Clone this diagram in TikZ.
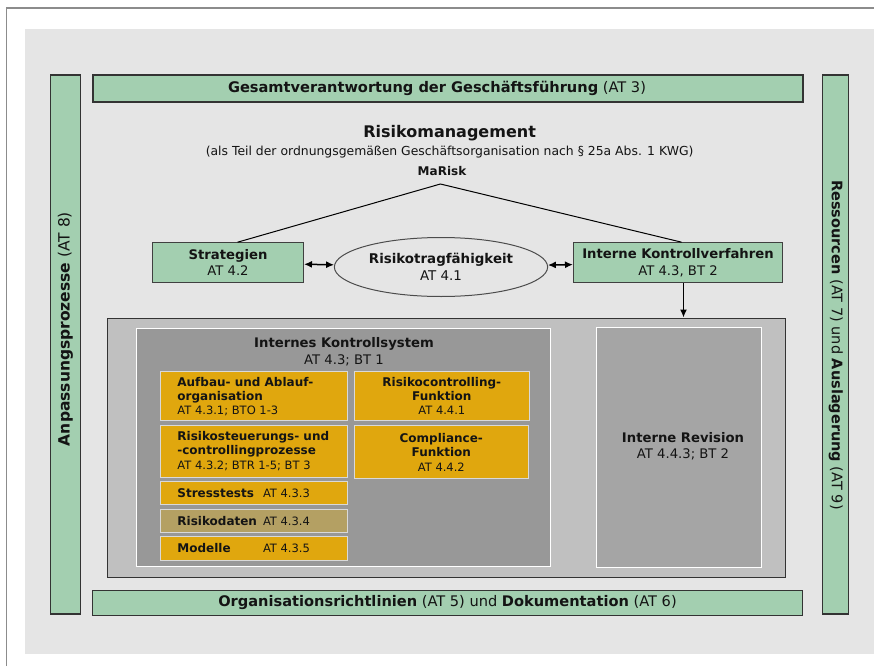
\documentclass[tikz,border=0pt]{standalone}
\usepackage{fontspec}
\setmainfont{DejaVu Sans}
\usepackage{tikz}
\usetikzlibrary{shapes}
\usetikzlibrary{arrows.meta}
\usepackage{xcolor}
\definecolor{gruen}{HTML}{A3CFB0}
\definecolor{gelb}{HTML}{E0A70E}
\definecolor{khaki}{HTML}{B4A063}
\definecolor{panel}{HTML}{E5E5E5}
\definecolor{rahmen}{HTML}{8C8C8C}
\definecolor{hellgrau}{HTML}{C0C0C0}
\definecolor{mittelgrau}{HTML}{989898}
\definecolor{revgrau}{HTML}{A5A5A5}
\definecolor{schrift}{HTML}{141414}
\newcommand{\fs}[2]{\fontsize{#1}{#2}\selectfont}
\newcommand{\yfont}{\fontsize{11.5}{14}\selectfont}
\newcommand{\yb}[1]{{\fontsize{12}{14}\selectfont\bfseries #1}}
\newcommand{\ytab}[2]{\makebox[85.6pt][l]{\yb{#1}}#2}

\begin{document}
\begin{tikzpicture}[x=1pt,y=-1pt,text=schrift,
  greenbar/.style={draw=black!80,fill=gruen,line width=1.2pt,inner sep=0pt},
  greenbox/.style={draw=black!75,fill=gruen,line width=1pt,align=center,font=\fs{13.2}{16.5}},
  graybox/.style={draw=white,line width=1pt},
  yellowbox/.style={draw=white!85!black,fill=gelb,line width=0.8pt,minimum width=187pt,inner sep=0pt},
  ytext/.style={anchor=west,xshift=17.4pt,inner sep=0pt,align=left,font=\yfont},
  rightbox/.style={draw=white!85!black,fill=gelb,line width=0.8pt,inner sep=0pt,
    align=center,font=\yfont},
  link/.style={line width=1.5pt,{Latex[length=8pt,width=7pt]}-{Latex[length=8pt,width=7pt]}}]
\useasboundingbox (0,0) rectangle (874,666);
\fill[panel] (25,29) rectangle (874,654);
\draw[rahmen,line width=1.6pt] (6.5,666) -- (6.5,8) -- (874,8);

\node[greenbar,minimum width=710pt,minimum height=27pt] (gesamt) at (448,88.5)
  {\fs{14.6}{16}\textbf{Gesamtverantwortung der Geschäftsführung} (AT 3)\hspace*{22pt}};
\node[greenbar,minimum width=30pt,minimum height=539pt] (anpass) at (65.3,344.5) {};
\node[rotate=90,font=\fs{15.5}{17}] (anpasstext) at (65.3,329) {\textbf{Anpassungsprozesse} (AT 8)};
\node[greenbar,minimum width=26pt,minimum height=539pt] (ressourcen) at (835.7,344.5) {};
\node[rotate=-90,font=\fs{14.5}{16}] (ressourcentext) at (835.7,345)
  {\textbf{Ressourcen} (AT 7) und \textbf{Auslagerung} (AT 9)};
\node[greenbar,minimum width=710pt,minimum height=25pt] (orga) at (447.5,603)
  {\fs{14.6}{16}\textbf{Organisationsrichtlinien} (AT 5) und \textbf{Dokumentation} (AT 6)};

\node (rm) at (449.6,133) {\fs{16}{18}\bfseries Risikomanagement};
\node (rmsub) at (449.6,152) {\fs{12.4}{14}(als Teil der ordnungsgemäßen Geschäftsorganisation nach § 25a Abs. 1 KWG)};
\node (marisk) at (442,171.5) {\fs{12}{14}\bfseries MaRisk};
\coordinate (spitze) at (440.4,184);

\node[greenbox,minimum width=151pt,minimum height=40pt] (strat) at (228,262.7)
  {\textbf{Strategien}\\AT 4.2};
\node[ellipse,draw=black!70,fill=panel,line width=1pt,minimum width=171pt,minimum height=59pt,
  align=center,font=\fs{13.4}{17.5}] (rtf) at (441,267) {\textbf{Risikotragfähigkeit}\\AT 4.1};
\node[greenbox,minimum width=209pt,minimum height=40pt] (ikv) at (678,262.7)
  {\textbf{Interne Kontrollverfahren}\\AT 4.3, BT 2};

\draw[line width=1pt] (strat.65) -- (spitze) -- (ikv.80);
\draw[link] (strat) -- (rtf);
\draw[link] (rtf) -- (ikv);

\node[draw=black!80,fill=hellgrau,line width=1pt,minimum width=678pt,minimum height=259pt] (kontrolle) at (446,447.5) {};
\draw[line width=1.5pt,-{Latex[length=8pt,width=7pt]}] (ikv.-75) -- (ikv.-75 |- kontrolle.north);
\node[graybox,fill=mittelgrau,minimum width=414pt,minimum height=238pt] (iks) at (343.7,447.5) {};
\node[graybox,fill=revgrau,minimum width=165pt,minimum height=240pt] (revision) at (679.2,447.3) {};
\node[align=center,font=\fs{13.2}{16.5}] (ikstitel) at (344,351.5) {\textbf{Internes Kontrollsystem}\\AT 4.3; BT 1};
\node[align=center,font=\fs{13.2}{16}] (revtitel) at (683,446) {\textbf{Interne Revision}\\AT 4.4.3; BT 2};

\node[yellowbox,minimum height=49pt] (aufbau) at (253.7,396.2) {};
\node[ytext] (aufbautext) at (aufbau.west) {\yb{Aufbau- und Ablauf-}\\\yb{organisation}\\AT 4.3.1; BTO 1-3};
\node[yellowbox,minimum height=52.7pt] (steuerung) at (253.7,451.4) {};
\node[ytext] (steuerungtext) at (steuerung.west) {\yb{Risikosteuerungs- und}\\\yb{-controllingprozesse}\\[1pt]AT 4.3.2; BTR 1-5; BT 3};
\node[yellowbox,minimum height=22.6pt] (stress) at (253.7,493) {};
\node[ytext] (stresstext) at (stress.west) {\ytab{Stresstests}{AT 4.3.3}};
\node[yellowbox,fill=khaki,minimum height=23.3pt] (daten) at (253.7,520.7) {};
\node[ytext] (datentext) at (daten.west) {\ytab{Risikodaten}{AT 4.3.4}};
\node[yellowbox,minimum height=23.3pt] (modelle) at (253.7,548.3) {};
\node[ytext] (modelletext) at (modelle.west) {\ytab{Modelle}{AT 4.3.5}};
\node[rightbox,minimum width=175pt,minimum height=49pt] (rcf) at (441.8,396.2)
  {\yb{Risikocontrolling-}\\\yb{Funktion}\\AT 4.4.1};
\node[rightbox,minimum width=174pt,minimum height=52.6pt] (compliance) at (441.3,452)
  {\yb{Compliance-}\\\yb{Funktion}\\[1pt]AT 4.4.2};
\end{tikzpicture}
\end{document}
